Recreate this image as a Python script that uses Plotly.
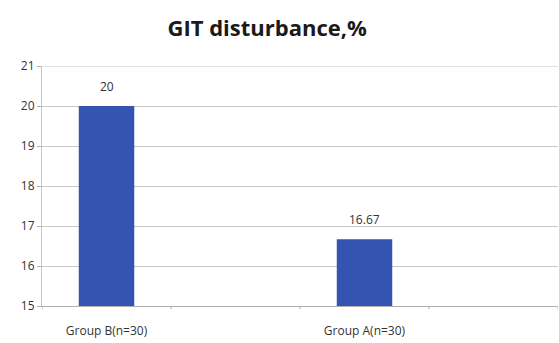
import plotly.graph_objects as go

# Category slots along the x axis (every other slot is left empty)
slot_labels = ["Group B(n=30)", "", "Group A(n=30)", ""]
groups = ["Group B(n=30)", "Group A(n=30)"]
values = [20, 16.67]
value_labels = ["20", "16.67"]
y_ticks = [15, 16, 17, 18, 19, 20, 21]

slot_pos = list(range(len(slot_labels)))
bar_x = [slot_pos[slot_labels.index(g)] for g in groups]

fig = go.Figure()
fig.add_trace(go.Bar(
    x=bar_x,
    y=values,
    base=0,
    width=0.43,
    marker=dict(color="#3553b0", line=dict(width=0)),
    hoverinfo="skip",
))

# Value labels sitting above each bar
for xv, yv, lab in zip(bar_x, values, value_labels):
    fig.add_annotation(
        x=xv, y=yv, text=lab, showarrow=False,
        yanchor="bottom", yshift=9,
        font=dict(family="Open Sans, Arial", size=12, color="#333333"),
    )

fig.update_layout(
    width=559,
    height=343,
    margin=dict(l=42, r=1, t=66, b=37),
    paper_bgcolor="white",
    plot_bgcolor="white",
    showlegend=False,
    title=dict(
        text="<b>GIT disturbance,%</b>",
        x=0.478,
        xanchor="center",
        y=0.918,
        yanchor="middle",
        font=dict(family="Open Sans, Arial", size=22, color="#1a1a1a"),
    ),
    xaxis=dict(
        range=[-0.5, len(slot_labels) - 0.5],
        tickmode="array",
        tickvals=slot_pos,
        ticktext=slot_labels,
        showgrid=False,
        showline=True,
        linecolor="#b0b0b0",
        linewidth=1,
        ticks="",
        ticklabelstandoff=14,
        tickfont=dict(family="Open Sans, Arial", size=12, color="#333333"),
        fixedrange=True,
    ),
    yaxis=dict(
        range=[15, 21],
        tickmode="array",
        tickvals=y_ticks,
        showgrid=True,
        gridcolor="#c8c8c8",
        gridwidth=1,
        showline=True,
        linecolor="#c8c8c8",
        ticks="outside",
        ticklen=4,
        tickcolor="#b0b0b0",
        tickfont=dict(family="Open Sans, Arial", size=12, color="#333333"),
        zeroline=False,
        fixedrange=True,
    ),
)

# Top gridline at the upper edge of the value range
fig.add_shape(
    type="line", xref="paper", yref="y",
    x0=0, x1=1, y0=y_ticks[-1], y1=y_ticks[-1],
    line=dict(color="#c8c8c8", width=1),
)

# Boundary tick marks between category slots on the x axis
for i in range(len(slot_labels) + 1):
    fig.add_shape(
        type="line",
        xref="x", yref="paper",
        x0=i - 0.5, x1=i - 0.5,
        y0=0, y1=-0.014,
        line=dict(color="#b0b0b0", width=1),
    )

fig.write_html("out.html")
